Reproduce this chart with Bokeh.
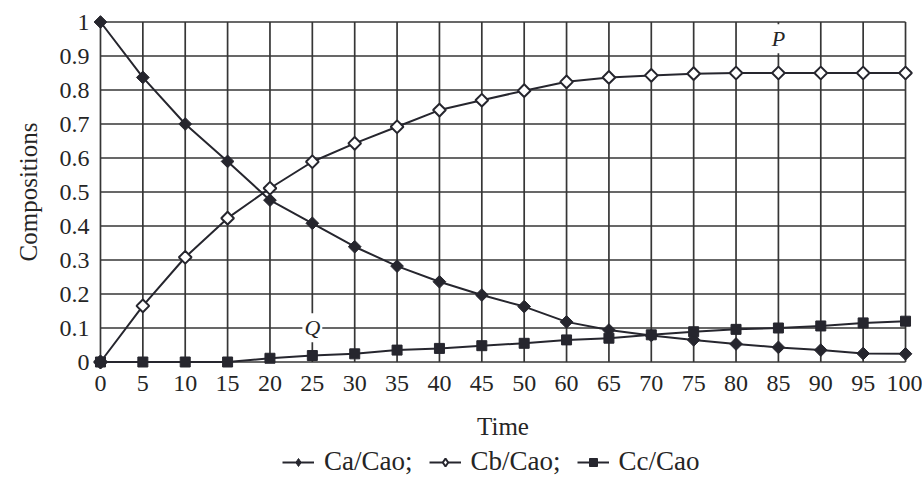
import math
from bokeh.plotting import figure
from bokeh.layouts import column
from bokeh.models import Range1d, FixedTicker, Legend, LegendItem, Label
from bokeh.embed import file_html
from bokeh.resources import INLINE

# ---- data ----
time_labels = ["0", "5", "10", "15", "20", "25", "30", "35", "40", "45",
               "50", "60", "65", "70", "75", "80", "85", "90", "95", "100"]
ca = [1.0, 0.837, 0.70, 0.59, 0.476, 0.408, 0.339, 0.282, 0.236, 0.197,
      0.163, 0.118, 0.094, 0.078, 0.065, 0.053, 0.043, 0.035, 0.025, 0.024]
cb = [0.0, 0.165, 0.308, 0.423, 0.511, 0.589, 0.643, 0.692, 0.741, 0.770,
      0.798, 0.824, 0.837, 0.843, 0.848, 0.850, 0.850, 0.850, 0.850, 0.850]
cc = [0.0, 0.0, 0.0, 0.0, 0.011, 0.019, 0.024, 0.035, 0.040, 0.048,
      0.055, 0.065, 0.070, 0.080, 0.089, 0.096, 0.100, 0.106, 0.115, 0.120]
y_ticks = [0.0, 0.1, 0.2, 0.3, 0.4, 0.5, 0.6, 0.7, 0.8, 0.9, 1.0]
series_names = ["Ca/Cao;", "Cb/Cao;", "Cc/Cao"]
p_label = ("85", 0.951)
q_label = ("25", 0.101)

x = list(range(len(time_labels)))

INK = "#26262e"
GRID = "#363636"
TXT = "#252525"
FONT = "Liberation Serif"

p = figure(width=922, height=445,
           x_range=Range1d(-0.212, len(x) - 1 + 0.212),
           y_range=Range1d(-0.025, 1.025),
           output_backend="svg", toolbar_location=None,
           min_border_left=91, min_border_right=8,
           min_border_top=13, min_border_bottom=75)
p.outline_line_color = None
p.grid.visible = False
p.background_fill_color = "white"
p.border_fill_color = "white"

# grid lines built from the tick lists
p.segment(x0=x, x1=x, y0=[y_ticks[0]] * len(x), y1=[y_ticks[-1]] * len(x),
          line_color=GRID, line_width=1.7)
p.segment(x0=[x[0]] * len(y_ticks), x1=[x[-1]] * len(y_ticks), y0=y_ticks, y1=y_ticks,
          line_color=GRID, line_width=1.7)

# series
STYLES = [dict(marker="square", angle=math.pi / 4, size=9, fill_color=INK, line_color=INK, line_width=1),
          dict(marker="square", angle=math.pi / 4, size=9, fill_color="white", line_color=INK, line_width=2),
          dict(marker="square", angle=0.0, size=10, fill_color=INK, line_color=INK, line_width=1)]
LEGEND_STYLES = [dict(marker="diamond", fill_color=INK, line_color=INK, line_width=1),
                 dict(marker="diamond", fill_color="white", line_color=INK, line_width=2),
                 dict(marker="square", fill_color=INK, line_color=INK, line_width=1)]
for ys, st in zip((ca, cb, cc), STYLES):
    p.line(x, ys, line_color=INK, line_width=2)
    p.scatter(x, ys, **st)

# axes
xa = p.xaxis[0]
xa.ticker = FixedTicker(ticks=x)
xa.major_label_overrides = {i: lab for i, lab in zip(x, time_labels)}
xa.axis_line_color = None
xa.major_tick_line_color = None
xa.minor_tick_line_color = None
xa.major_tick_out = 0
xa.major_label_standoff = 5
xa.major_label_text_font = FONT
xa.major_label_text_font_size = "24px"
xa.major_label_text_color = TXT
xa.axis_label = "Time"
xa.axis_label_text_font = FONT
xa.axis_label_text_font_size = "25px"
xa.axis_label_text_font_style = "normal"
xa.axis_label_text_color = TXT
xa.axis_label_standoff = 19

ya = p.yaxis[0]
ya.ticker = FixedTicker(ticks=y_ticks)
ya.major_label_overrides = {t: f"{t:g}" for t in y_ticks}
ya.axis_line_color = None
ya.major_tick_line_color = None
ya.minor_tick_line_color = None
ya.major_tick_out = 0
ya.major_label_standoff = 2
ya.major_label_text_font = FONT
ya.major_label_text_font_size = "24px"
ya.major_label_text_color = TXT
ya.axis_label = "Compositions"
ya.axis_label_text_font = FONT
ya.axis_label_text_font_size = "25px"
ya.axis_label_text_font_style = "normal"
ya.axis_label_text_color = TXT
ya.axis_label_standoff = 15

# annotations P and Q
for txt, (cat, yv) in (("P", p_label), ("Q", q_label)):
    p.add_layout(Label(x=time_labels.index(cat), y=yv, text=txt,
                       text_font=FONT, text_font_size="22px",
                       text_font_style="italic", text_color=TXT,
                       text_align="center", text_baseline="middle",
                       background_fill_color="white", padding=2))

# legend strip below the chart: same series, drawn outside this strip's ranges,
# so only the legend entries are visible
lf = figure(width=922, height=33, x_range=Range1d(-100, -99), y_range=Range1d(-100, -99),
            x_axis_type=None, y_axis_type=None,
            output_backend="svg", toolbar_location=None,
            min_border_left=0, min_border_right=0, min_border_top=0, min_border_bottom=0)
lf.outline_line_color = None
lf.grid.visible = False
items = []
for name, ys, st in zip(series_names, (ca, cb, cc), LEGEND_STYLES):
    rl = lf.line(x, ys, line_color=INK, line_width=2)
    rs = lf.scatter(x, ys, size=10, **st)
    items.append(LegendItem(label=name, renderers=[rl, rs]))
legend = Legend(items=items, orientation="horizontal", location=(191, 1),
                border_line_color=None, background_fill_alpha=0,
                label_text_font=FONT, label_text_font_size="27px",
                label_text_color=TXT, label_text_baseline="middle",
                glyph_width=32, glyph_height=20, label_standoff=10,
                spacing=16, margin=0, padding=0)
lf.add_layout(legend, "center")

layout = column(p, lf, spacing=0)
open("out.html", "w").write(file_html(layout, INLINE))
